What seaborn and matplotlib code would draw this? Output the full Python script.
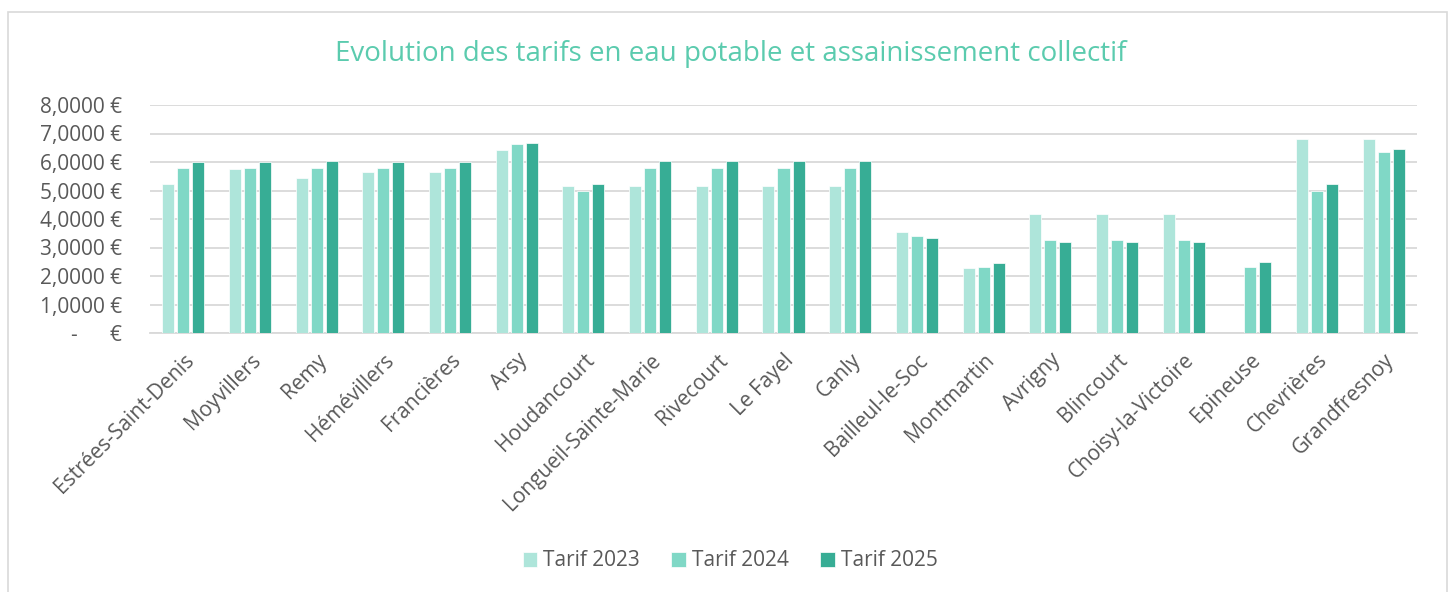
import numpy as np
import pandas as pd
import seaborn as sns
import matplotlib.pyplot as plt
from matplotlib.patches import Rectangle
from matplotlib.ticker import FixedLocator

communes = ['Estrées-Saint-Denis', 'Moyvillers', 'Remy', 'Hémévillers', 'Francières',
            'Arsy', 'Houdancourt', 'Longueil-Sainte-Marie', 'Rivecourt', 'Le Fayel',
            'Canly', 'Bailleul-le-Soc', 'Montmartin', 'Avrigny', 'Blincourt',
            'Choisy-la-Victoire', 'Epineuse', 'Chevrières', 'Grandfresnoy']
tarif_2023 = [5.22, 5.76, 5.45, 5.64, 5.64, 6.41, 5.16, 5.16, 5.16, 5.16,
              5.16, 3.56, 2.27, 4.18, 4.18, 4.18, np.nan, 6.79, 6.79]
tarif_2024 = [5.79, 5.79, 5.80, 5.79, 5.79, 6.64, 5.00, 5.79, 5.79, 5.79,
              5.79, 3.42, 2.31, 3.26, 3.26, 3.26, 2.31, 5.00, 6.36]
tarif_2025 = [6.01, 6.01, 6.04, 6.01, 6.01, 6.66, 5.24, 6.02, 6.02, 6.02,
              6.02, 3.34, 2.47, 3.21, 3.21, 3.21, 2.48, 5.24, 6.44]
series = ['Tarif 2023', 'Tarif 2024', 'Tarif 2025']
colors = ['#AEE5DA', '#80D8C6', '#37AD95']
yticks = [0, 1, 2, 3, 4, 5, 6, 7, 8]
ytick_labels = ['-      €', '1,0000 €', '2,0000 €', '3,0000 €', '4,0000 €',
                '5,0000 €', '6,0000 €', '7,0000 €', '8,0000 €']

df = pd.DataFrame({'commune': communes * 3,
                   'tarif': tarif_2023 + tarif_2024 + tarif_2025,
                   'serie': [s for s in series for _ in communes]})

sns.set_style('white')
plt.rcParams['font.family'] = ['Open Sans', 'DejaVu Sans']
txt = '#595959'

fig = plt.figure(figsize=(14.52, 5.92), dpi=100)
ax = fig.add_axes([150 / 1452, 1 - 333 / 592, (1417 - 150) / 1452, (333 - 105) / 592])

sns.barplot(data=df, x='commune', y='tarif', hue='serie', palette=colors,
            saturation=1, width=0.675, gap=0.2, edgecolor='white', linewidth=0.5,
            errorbar=None, ax=ax, legend=True, zorder=3)

ax.set_ylim(0, 8)
ax.yaxis.set_major_locator(FixedLocator(yticks))
ax.set_yticklabels(ytick_labels)
ax.grid(axis='y', color='#D9D9D9', linewidth=1.3, zorder=0)
ax.set_axisbelow(True)
for s in ['left', 'right', 'top']:
    ax.spines[s].set_visible(False)
ax.spines['bottom'].set_color('#D9D9D9')
ax.spines['bottom'].set_linewidth(1.3)
ax.set_xlabel('')
ax.set_ylabel('')
ax.tick_params(axis='both', length=0, colors=txt, labelsize=15)
ax.tick_params(axis='y', pad=20)
plt.setp(ax.get_xticklabels(), rotation=45, ha='right', rotation_mode='anchor')
ax.tick_params(axis='x', pad=12)

handles, labels = ax.get_legend_handles_labels()
ax.get_legend().remove()
fig.legend(handles, labels, loc='center', bbox_to_anchor=(0.503, 1 - 561 / 592),
           ncol=3, frameon=False, fontsize=15, labelcolor=txt,
           handlelength=0.7, handleheight=0.7, handletextpad=0.3, columnspacing=1.5)

fig.text(0.503, 1 - 54 / 592, 'Evolution des tarifs en eau potable et assainissement collectif',
         ha='center', va='center', fontsize=20, color='#5BCBAE')

fig.patches.append(Rectangle((8 / 1452, -0.01), 1439 / 1452, 1.01 - 12 / 592,
                             transform=fig.transFigure, fill=False,
                             edgecolor='#D9D9D9', linewidth=1.2))

fig.savefig('out.png', dpi=100)
